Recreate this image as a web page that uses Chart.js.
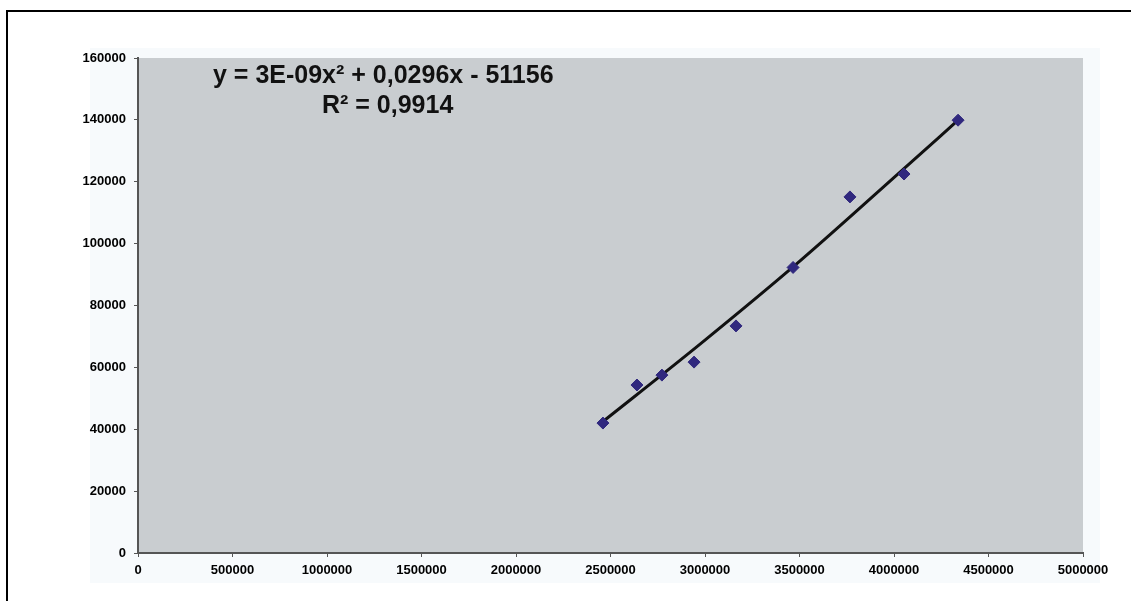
<!DOCTYPE html>
<html>
<head>
<meta charset="utf-8">
<script src="https://cdn.jsdelivr.net/npm/chart.js@4"></script>
<style>
  html, body { margin: 0; padding: 0; background: #ffffff; }
  #wrap { width: 1131px; height: 601px; position: relative; }
</style>
</head>
<body>
<div id="wrap"><canvas id="myChart"></canvas></div>
<script>
// data points
const pointsX = [2460000, 2640000, 2772000, 2942000, 3164000, 3466000, 3767000, 4053000, 4339000];
const pointsY = [42000, 54300, 57500, 61700, 73400, 92300, 115100, 122500, 139900];

// trendline as drawn in the picture
const trendX = [2444000, 2974000, 3503000, 4032000, 4339000];
const trendY = [41700, 67500, 94400, 123100, 139900];

const yTicks = [0, 20000, 40000, 60000, 80000, 100000, 120000, 140000, 160000];
const xTicks = [0, 500000, 1000000, 1500000, 2000000, 2500000, 3000000, 3500000, 4000000, 4500000, 5000000];

const eqLine1 = "y = 3E-09x\u00b2 + 0,0296x - 51156";
const eqLine2 = "R\u00b2 = 0,9914";

const bgPlugin = {
    id: "bg",
    beforeDraw(chart) {
        const c = chart.ctx, a = chart.chartArea;
        c.save();
        c.fillStyle = "#ffffff";
        c.fillRect(0, 0, chart.width, chart.height);
        c.fillStyle = "#f7fafc";
        c.fillRect(90, 48, 1010, 535);
        c.fillStyle = "#c9cdd0";
        c.fillRect(a.left, a.top, a.right - a.left, a.bottom - a.top);
        // outer frame
        c.strokeStyle = "#000000";
        c.lineWidth = 2;
        c.beginPath();
        c.moveTo(7, 640);
        c.lineTo(7, 11);
        c.lineTo(1140, 11);
        c.stroke();
        c.restore();
    },
    afterDraw(chart) {
        const c = chart.ctx;
        c.save();
        c.fillStyle = "#111111";
        c.font = "bold 25px 'Liberation Sans', Arial, sans-serif";
        c.textBaseline = "alphabetic";
        c.textAlign = "left";
        c.fillText(eqLine1, 213, 83);
        c.fillText(eqLine2, 322, 113);
        c.restore();
    }
};

const ctx = document.getElementById("myChart");
const myChart = new Chart(ctx, {
    data: {
        datasets: [{
            type: "line",
            label: "trend",
            data: trendX.map((x, i) => ({ x: x, y: trendY[i] })),
            borderColor: "#111111",
            borderWidth: 3,
            pointRadius: 0,
            cubicInterpolationMode: "monotone",
            order: 2
        }, {
            type: "scatter",
            label: "data",
            data: pointsX.map((x, i) => ({ x: x, y: pointsY[i] })),
            pointStyle: "rectRot",
            pointRadius: 6,
            backgroundColor: "#30287e",
            borderColor: "#30287e",
            borderWidth: 1,
            order: 1
        }]
    },
    options: {
        responsive: true,
        maintainAspectRatio: false,
        animation: false,
        layout: { padding: { left: 0, top: 58, right: 48, bottom: 0 } },
        plugins: { legend: { display: false }, tooltip: { enabled: false } },
        scales: {
            x: {
                type: "linear",
                min: 0,
                max: 5000000,
                afterBuildTicks: (axis) => { axis.ticks = xTicks.map(v => ({ value: v })); },
                afterFit: (axis) => { axis.height = 48; },
                grid: { drawOnChartArea: false, drawTicks: true, tickLength: 4, color: "#555555" },
                border: { display: true, color: "#555555", width: 2 },
                ticks: {
                    color: "#000000",
                    padding: 6,
                    maxRotation: 0,
                    autoSkip: false,
                    font: { family: "'Liberation Sans', Arial, sans-serif", size: 13, weight: "bold" },
                    callback: (v) => String(v)
                }
            },
            y: {
                type: "linear",
                min: 0,
                max: 160000,
                afterBuildTicks: (axis) => { axis.ticks = yTicks.map(v => ({ value: v })); },
                afterFit: (axis) => { axis.width = 138; },
                grid: { drawOnChartArea: false, drawTicks: true, tickLength: 4, color: "#555555" },
                border: { display: true, color: "#555555", width: 2 },
                ticks: {
                    color: "#000000",
                    padding: 8,
                    autoSkip: false,
                    font: { family: "'Liberation Sans', Arial, sans-serif", size: 13, weight: "bold" },
                    callback: (v) => String(v)
                }
            }
        }
    },
    plugins: [bgPlugin]
});
</script>
</body>
</html>
